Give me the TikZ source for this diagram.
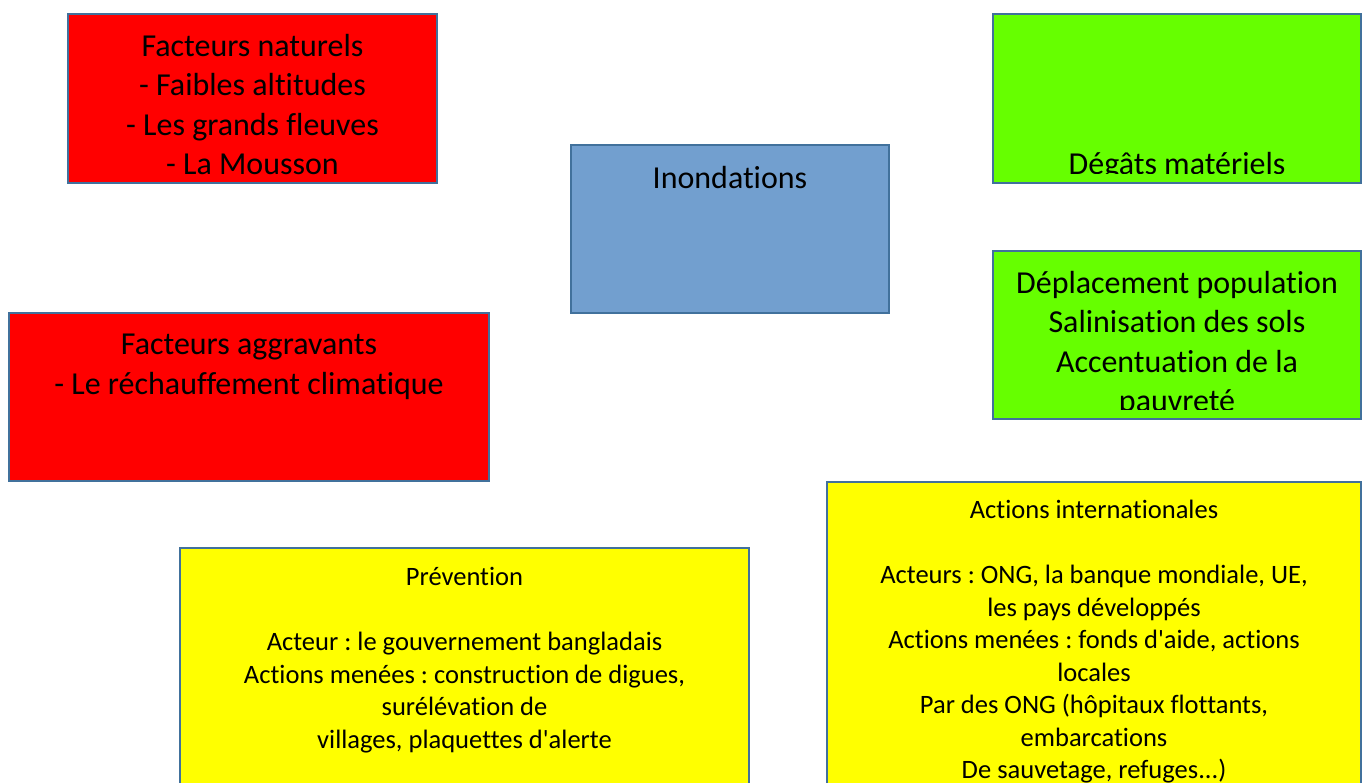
\documentclass[tikz,border=0pt]{standalone}
\usepackage{fontspec}
\setmainfont{Carlito}[Ligatures={TeX,NoCommon}]
\usepackage{xcolor}
\usepackage{tikz}
\frenchspacing

\definecolor{edgeblue}{RGB}{65,113,156}
\definecolor{causered}{RGB}{255,0,0}
\definecolor{floodblue}{RGB}{114,159,207}
\definecolor{effectgreen}{RGB}{102,255,0}
\definecolor{actionyellow}{RGB}{255,255,0}

\begin{document}
\begin{tikzpicture}[x=0.02cm, y=-0.02cm,
    panel/.style={draw=edgeblue, line width=0.9pt, rectangle, inner sep=0pt, outer sep=0pt},
    bigtext/.style={anchor=north, align=center, inner sep=0pt, font=\fontsize{18.2}{22.4}\selectfont},
    smalltext/.style={anchor=north, align=center, inner sep=0pt, font=\fontsize{15.1}{18.5}\selectfont}]
  \clip (0,0) rectangle (1368,783);

  % boxes
  \node (nat) [panel, fill=causered, minimum width=7.38cm, minimum height=3.38cm] at (252.5,98.5) {};
  \node (agg) [panel, fill=causered, minimum width=9.6cm, minimum height=3.36cm] at (249,397) {};
  \node (ino) [panel, fill=floodblue, minimum width=6.36cm, minimum height=3.36cm] at (730,229) {};
  \node (deg) [panel, fill=effectgreen, minimum width=7.36cm, minimum height=3.38cm] at (1177,98.5) {};
  \node (dep) [panel, fill=effectgreen, minimum width=7.36cm, minimum height=3.36cm] at (1177,335) {};
  \node (prev) [panel, fill=actionyellow, minimum width=11.38cm, minimum height=4.88cm] at (464.5,670) {};
  \node (intl) [panel, fill=actionyellow, minimum width=10.68cm, minimum height=6.2cm] at (1094,637) {};

  % texts
  \node (natText) [bigtext] at (252.5,34) {Facteurs naturels\\- Faibles altitudes\\- Les grands fleuves\\- La Mousson};
  \node (aggText) [bigtext] at (249,334) {Facteurs aggravants\\- Le réchauffement climatique};
  \node (inoText) [bigtext] at (730,166) {Inondations};
  % text cut off above the lower edge
  \begin{scope}
    \clip (deg.north west) rectangle ([yshift=0.19cm]deg.south east);
    \node (degText) [bigtext] at (1177,152) {Dégâts matériels};
  \end{scope}
  \begin{scope}
    \clip (dep.north west) rectangle ([yshift=0.18cm]dep.south east);
    \node (depText) [bigtext] at (1177,271) {Déplacement population\\Salinisation des sols\\Accentuation de la\\pauvreté};
  \end{scope}
  \node (prevText) [smalltext] at (464.5,567) {Prévention\\[18.5pt]Acteur : le gouvernement bangladais\\Actions menées : construction de digues,\\surélévation de\\villages, plaquettes d\textquotesingle alerte};
  \node (intlText) [smalltext] at (1094,500) {Actions internationales\\[18.5pt]Acteurs : ONG, la banque mondiale, UE,\\les pays développés\\Actions menées : fonds d\textquotesingle aide, actions\\locales\\Par des ONG (hôpitaux flottants,\\embarcations\\De sauvetage, refuges...)};
\end{tikzpicture}
\end{document}
